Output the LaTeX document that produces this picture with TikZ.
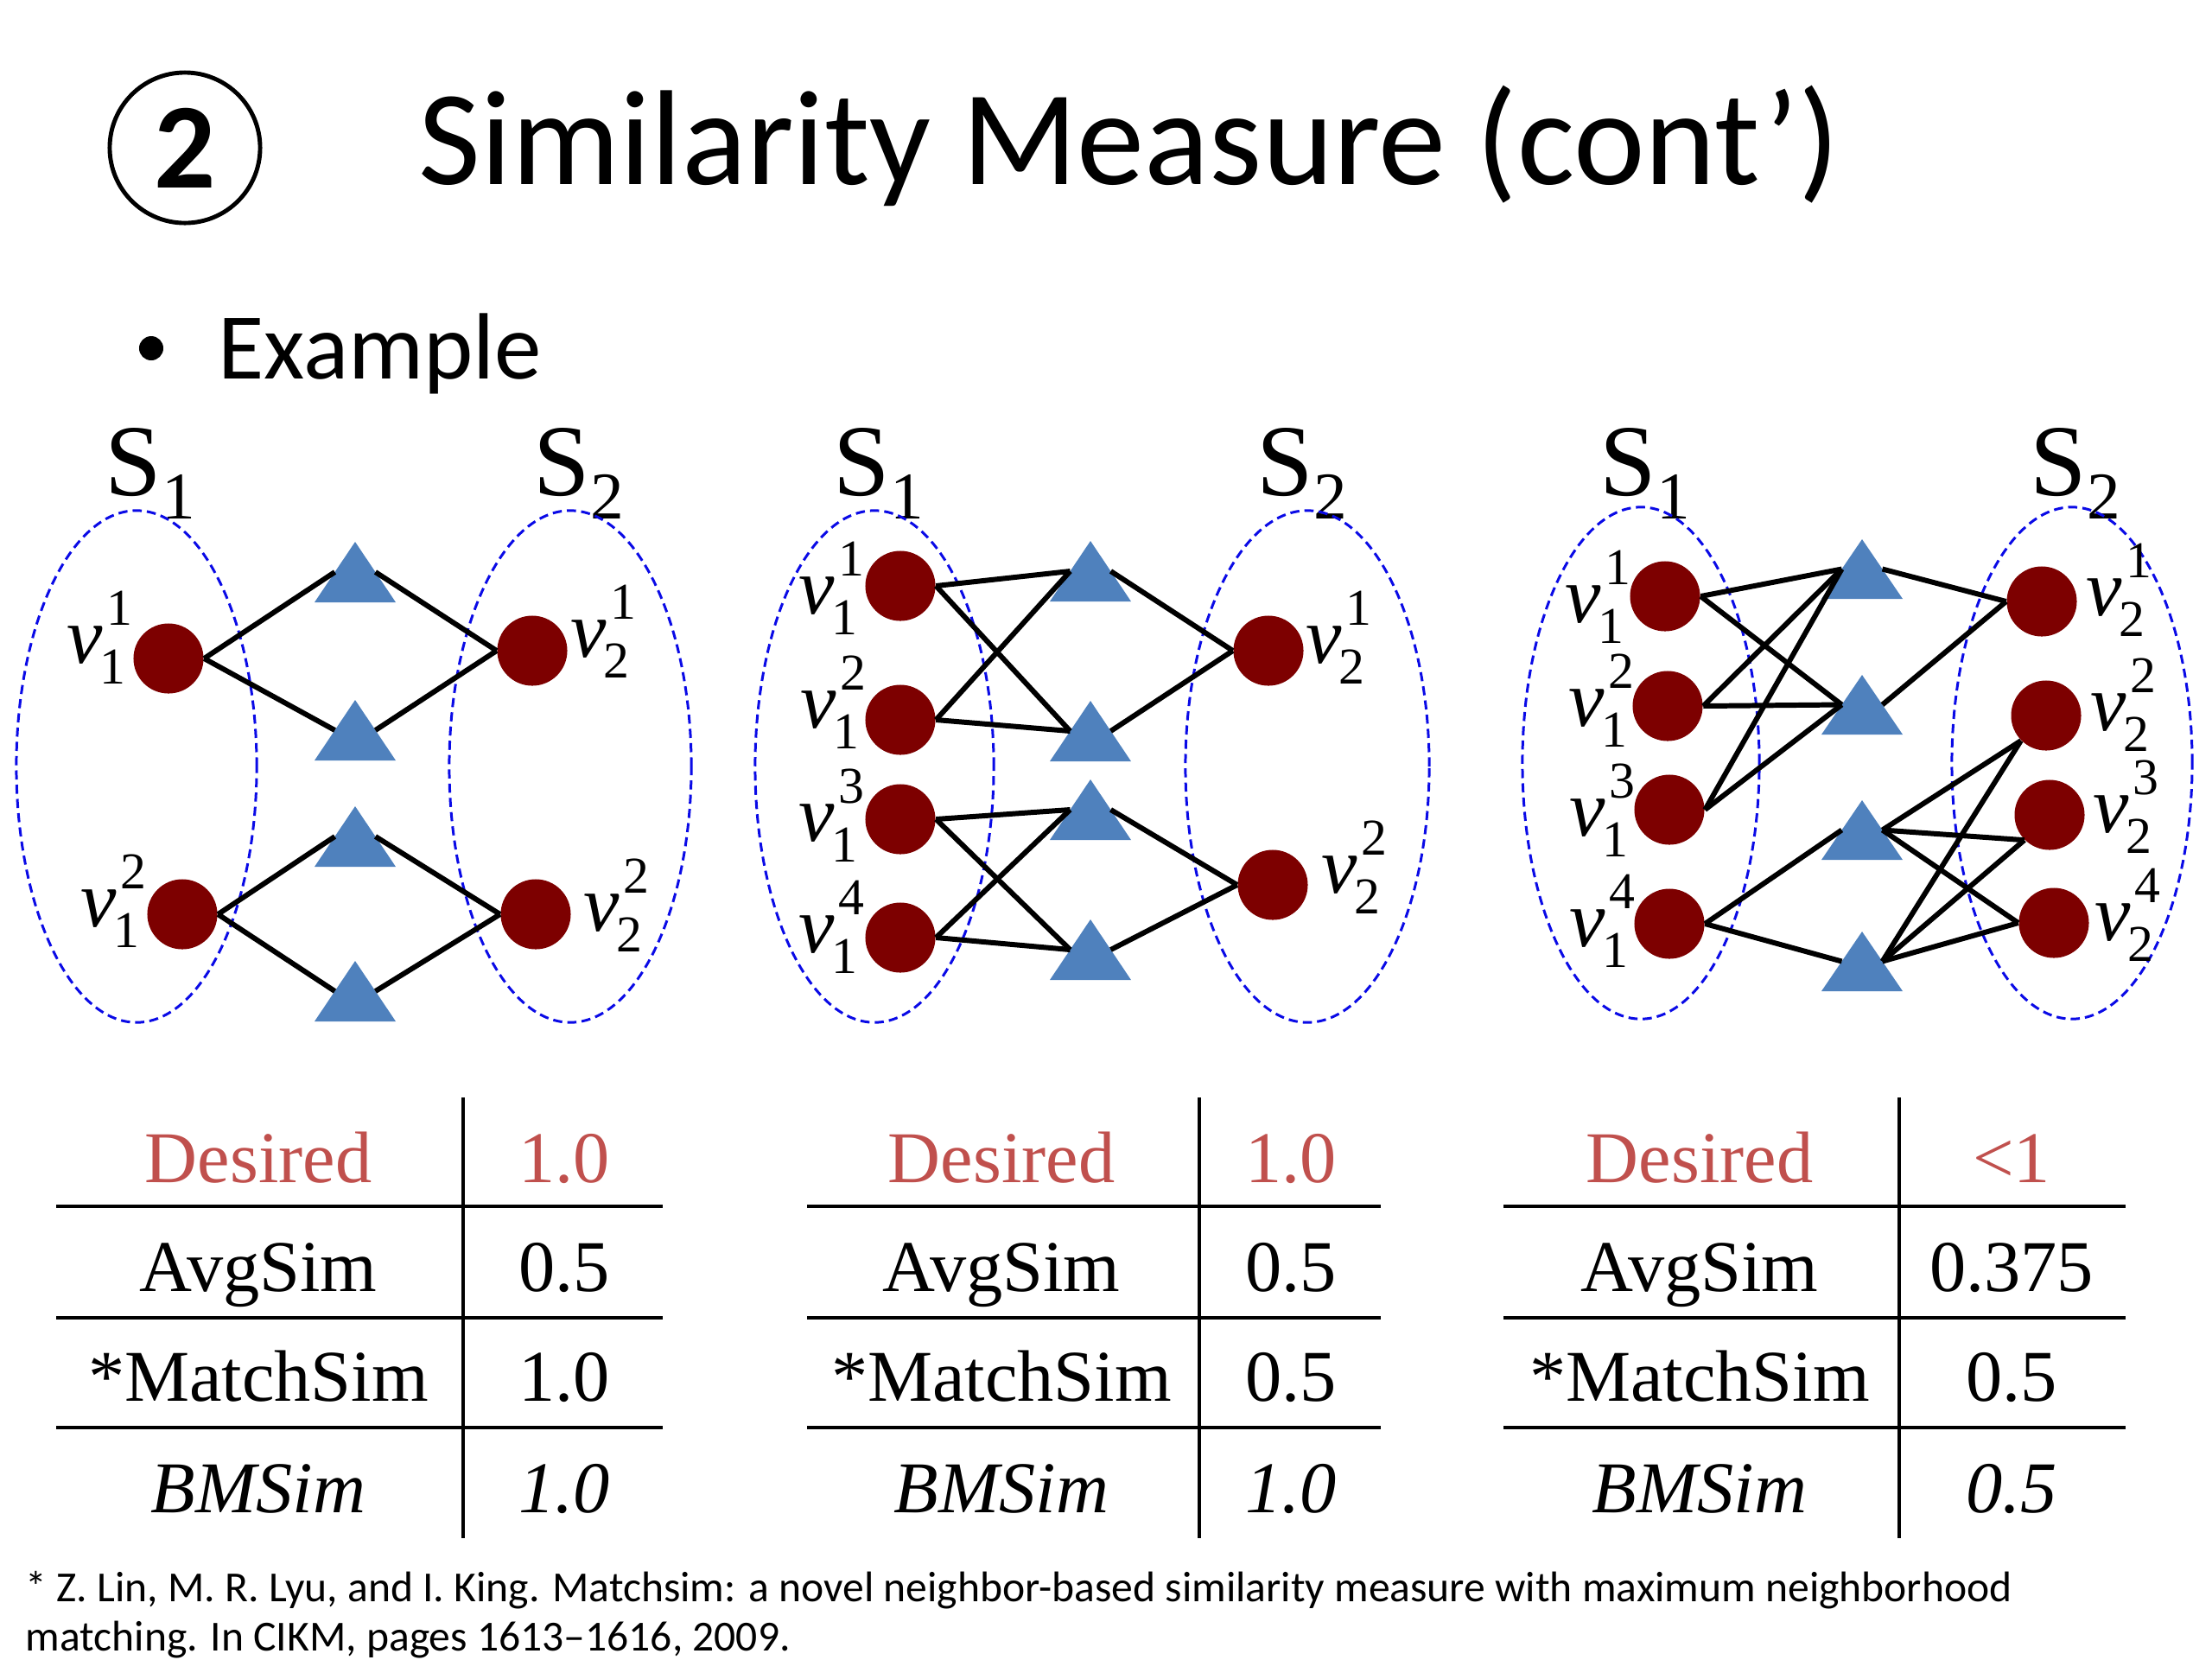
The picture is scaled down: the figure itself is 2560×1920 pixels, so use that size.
\documentclass[tikz,border=0pt]{standalone}
\usepackage{fontspec}
\setmainfont{Liberation Serif}
\newfontfamily\calib{Carlito}
\usetikzlibrary{calc}
\definecolor{vred}{RGB}{125,0,0}
\definecolor{tblue}{RGB}{79,129,189}
\definecolor{dred}{RGB}{192,80,77}
\definecolor{ellblue}{RGB}{10,10,230}
\newcommand{\scr}{\fontsize{17}{17}\selectfont}
\newcommand{\vv}[2]{\textit{v}\kern-0.04em\rlap{\kern2.3pt\raisebox{12.3pt}{\scr #1}}\raisebox{-7pt}{\scr #2}}
\newcommand{\Ss}[1]{S\raisebox{-7.7pt}{\fontsize{22}{22}\selectfont #1}}
\newcommand{\tri}[4]{%
  \fill[tblue] (#2-47,#4) -- (#2,#3) -- (#2+47,#4) -- cycle;
  \coordinate (#1l) at (#2-23.5,{(#3+#4)/2});
  \coordinate (#1r) at (#2+23.5,{(#3+#4)/2});}
\tikzset{
  vtx/.style={circle, fill=vred, minimum size=0.81cm, inner sep=0pt},
  edge/.style={line width=1.7pt, black},
  grp/.style={draw=ellblue, line width=0.85pt, dash pattern=on 3pt off 1.7pt},
  lbl/.style={inner sep=0pt, font=\fontsize{26.5}{30}\selectfont},
  slbl/.style={inner sep=0pt, anchor=base west, font=\fontsize{33.5}{36}\selectfont},
  cell/.style={inner sep=0pt, anchor=base, font=\fontsize{24}{28}\selectfont},
  rule/.style={line width=1pt, black}
}
\begin{document}
\begin{tikzpicture}[x=0.01cm, y=-0.01cm]
\useasboundingbox (0,0) rectangle (2560,1920);
% title
\node[circle, draw, line width=1.4pt, minimum size=1.74cm, inner sep=0pt,
      font=\calib\bfseries\fontsize{40}{40}\selectfont] (num) at (214,171) {2};
\node[anchor=base west, inner sep=0pt, font=\calib\fontsize{44.5}{48}\selectfont] (title) at (484,213) {Similarity Measure (cont’)};
\node[circle, fill=black, minimum size=0.28cm, inner sep=0pt] (bul) at (175,403) {};
\node[anchor=base west, inner sep=0pt, font=\calib\fontsize{31}{34}\selectfont] (ex) at (252,438) {Example};

% ---------------- graph 1
\node[slbl] (AS1) at (121,573) {\Ss{1}};
\node[slbl] (AS2) at (617,573) {\Ss{2}};
\draw[grp] (158,887) ellipse [x radius=1.39cm, y radius=2.96cm];
\draw[grp] (660,887) ellipse [x radius=1.40cm, y radius=2.96cm];
\tri{At1}{411}{627}{697}
\tri{At2}{411}{810}{880}
\tri{At3}{411}{933}{1003}
\tri{At4}{411}{1112}{1182}
\node[vtx] (A11) at (195,762) {};
\node[vtx] (A12) at (211,1058) {};
\node[vtx] (A21) at (616,753) {};
\node[vtx] (A22) at (620,1058) {};
\node[lbl, anchor=base east] (lA11) at ($(A11.west)+(-8,5)$) {\vv{1}{1}};
\node[lbl, anchor=base east] (lA12) at ($(A12.west)+(-8,14)$) {\vv{2}{1}};
\node[lbl, anchor=base west] (lA21) at ($(A21.east)+(3,7)$) {\vv{1}{2}};
\node[lbl, anchor=base west] (lA22) at ($(A22.east)+(14,19)$) {\vv{2}{2}};
\draw[edge] (A11.east) -- (At1l); \draw[edge] (A11.east) -- (At2l);
\draw[edge] (At1r) -- (A21.west); \draw[edge] (At2r) -- (A21.west);
\draw[edge] (A12.east) -- (At3l); \draw[edge] (A12.east) -- (At4l);
\draw[edge] (At3r) -- (A22.west); \draw[edge] (At4r) -- (A22.west);

% ---------------- graph 2
\node[slbl] (BS1) at (964,573) {\Ss{1}};
\node[slbl] (BS2) at (1454,573) {\Ss{2}};
\draw[grp] (1012,887) ellipse [x radius=1.38cm, y radius=2.96cm];
\draw[grp] (1513,887) ellipse [x radius=1.41cm, y radius=2.96cm];
\tri{Bt1}{1262}{626}{696}
\tri{Bt2}{1262}{811}{881}
\tri{Bt3}{1262}{902}{972}
\tri{Bt4}{1262}{1064}{1134}
\node[vtx] (B11) at (1042,678) {};
\node[vtx] (B12) at (1042,833) {};
\node[vtx] (B13) at (1042,948) {};
\node[vtx] (B14) at (1042,1085) {};
\node[vtx] (B21) at (1468,753) {};
\node[vtx] (B22) at (1473,1024) {};
\node[lbl, anchor=base east] (lB11) at ($(B11.west)+(-8,32)$) {\vv{1}{1}};
\node[lbl, anchor=base east] (lB12) at ($(B12.west)+(-6,9)$) {\vv{2}{1}};
\node[lbl, anchor=base east] (lB13) at ($(B13.west)+(-8,25)$) {\vv{3}{1}};
\node[lbl, anchor=base east] (lB14) at ($(B14.west)+(-8,17)$) {\vv{4}{1}};
\node[lbl, anchor=base west] (lB21) at ($(B21.east)+(2,14)$) {\vv{1}{2}};
\node[lbl, anchor=base west] (lB22) at ($(B22.east)+(15,9)$) {\vv{2}{2}};
\draw[edge] (B11.east) -- (Bt1l); \draw[edge] (B11.east) -- (Bt2l);
\draw[edge] (B12.east) -- (Bt1l); \draw[edge] (B12.east) -- (Bt2l);
\draw[edge] (B13.east) -- (Bt3l); \draw[edge] (B13.east) -- (Bt4l);
\draw[edge] (B14.east) -- (Bt3l); \draw[edge] (B14.east) -- (Bt4l);
\draw[edge] (Bt1r) -- (B21.west); \draw[edge] (Bt2r) -- (B21.west);
\draw[edge] (Bt3r) -- (B22.west); \draw[edge] (Bt4r) -- (B22.west);

% ---------------- graph 3
\node[slbl] (CS1) at (1851,573) {\Ss{1}};
\node[slbl] (CS2) at (2349,573) {\Ss{2}};
\draw[grp] (1899,883) ellipse [x radius=1.37cm, y radius=2.96cm];
\draw[grp] (2398,883) ellipse [x radius=1.39cm, y radius=2.96cm];
\tri{Ct1}{2155}{624}{693}
\tri{Ct2}{2155}{781}{850}
\tri{Ct3}{2155}{926}{995}
\tri{Ct4}{2155}{1078}{1147}
\node[vtx] (C11) at (1927,690) {};
\node[vtx] (C12) at (1930,817) {};
\node[vtx] (C13) at (1932,937) {};
\node[vtx] (C14) at (1932,1069) {};
\node[vtx] (C21) at (2363,696) {};
\node[vtx] (C22) at (2368,828) {};
\node[vtx] (C23) at (2372,943) {};
\node[vtx] (C24) at (2377,1068) {};
\node[lbl, anchor=base east] (lC11) at ($(C11.west)+(-6,30)$) {\vv{1}{1}};
\node[lbl, anchor=base east] (lC12) at ($(C12.west)+(-5,23)$) {\vv{2}{1}};
\node[lbl, anchor=base east] (lC13) at ($(C13.west)+(-6,30)$) {\vv{3}{1}};
\node[lbl, anchor=base east] (lC14) at ($(C14.west)+(-6,26)$) {\vv{4}{1}};
\node[lbl, anchor=base west] (lC21) at ($(C21.east)+(10,16)$) {\vv{1}{2}};
\node[lbl, anchor=base west] (lC22) at ($(C22.east)+(10,17)$) {\vv{2}{2}};
\node[lbl, anchor=base west] (lC23) at ($(C23.east)+(9,20)$) {\vv{3}{2}};
\node[lbl, anchor=base west] (lC24) at ($(C24.east)+(6,20)$) {\vv{4}{2}};
\draw[edge] (C11.east) -- (Ct1l); \draw[edge] (C11.east) -- (Ct2l);
\draw[edge] (C12.east) -- (Ct1l); \draw[edge] (C12.east) -- (Ct2l);
\draw[edge] (C13.east) -- (Ct1l); \draw[edge] (C13.east) -- (Ct2l);
\draw[edge] (C14.east) -- (Ct3l); \draw[edge] (C14.east) -- (Ct4l);
\draw[edge] (Ct1r) -- (C21.west); \draw[edge] (Ct2r) -- (C21.west);
\draw[edge] (Ct3r) -- (C22.south west); \draw[edge] (Ct3r) -- (C23.south west); \draw[edge] (Ct3r) -- (C24.west);
\draw[edge] (Ct4r) -- (C22.south west); \draw[edge] (Ct4r) -- (C23.south west); \draw[edge] (Ct4r) -- (C24.west);

% ---------------- tables
% table 1
\draw[rule] (536,1270) -- (536,1780);
\foreach \yy in {1396,1525,1652} \draw[rule] (65,\yy) -- (767,\yy);
\node[cell, text=dred] (t1a) at (299,1368) {Desired};
\node[cell, text=dred] (t1b) at (653,1368) {1.0};
\node[cell] (t1c) at (299,1494) {AvgSim};
\node[cell] (t1d) at (653,1494) {0.5};
\node[cell] (t1e) at (299,1621) {*MatchSim};
\node[cell] (t1f) at (653,1621) {1.0};
\node[cell] (t1g) at (299,1750) {\itshape BMSim};
\node[cell] (t1h) at (653,1750) {\itshape 1.0};
% table 2
\draw[rule] (1388,1270) -- (1388,1780);
\foreach \yy in {1396,1525,1652} \draw[rule] (934,\yy) -- (1598,\yy);
\node[cell, text=dred] (t2a) at (1159,1368) {Desired};
\node[cell, text=dred] (t2b) at (1494,1368) {1.0};
\node[cell] (t2c) at (1159,1494) {AvgSim};
\node[cell] (t2d) at (1494,1494) {0.5};
\node[cell] (t2e) at (1159,1621) {*MatchSim};
\node[cell] (t2f) at (1494,1621) {0.5};
\node[cell] (t2g) at (1159,1750) {\itshape BMSim};
\node[cell] (t2h) at (1494,1750) {\itshape 1.0};
% table 3
\draw[rule] (2198,1270) -- (2198,1780);
\foreach \yy in {1396,1525,1652} \draw[rule] (1740,\yy) -- (2460,\yy);
\node[cell, text=dred] (t3a) at (1967,1368) {Desired};
\node[cell, text=dred] (t3b) at (2328,1368) {<1};
\node[cell] (t3c) at (1967,1494) {AvgSim};
\node[cell] (t3d) at (2328,1494) {0.375};
\node[cell] (t3e) at (1967,1621) {*MatchSim};
\node[cell] (t3f) at (2328,1621) {0.5};
\node[cell] (t3g) at (1967,1750) {\itshape BMSim};
\node[cell] (t3h) at (2328,1750) {\itshape 0.5};

% footnote
\node[anchor=base west, inner sep=0pt, font=\calib\fontsize{14.1}{16}\selectfont] (fn1) at (29,1853) {* Z. Lin, M. R. Lyu, and I. King. Matchsim: a novel neighbor-based similarity measure with maximum neighborhood};
\node[anchor=base west, inner sep=0pt, font=\calib\fontsize{14.1}{16}\selectfont] (fn2) at (29,1910) {matching. In CIKM, pages 1613–1616, 2009.};
\end{tikzpicture}
\end{document}
